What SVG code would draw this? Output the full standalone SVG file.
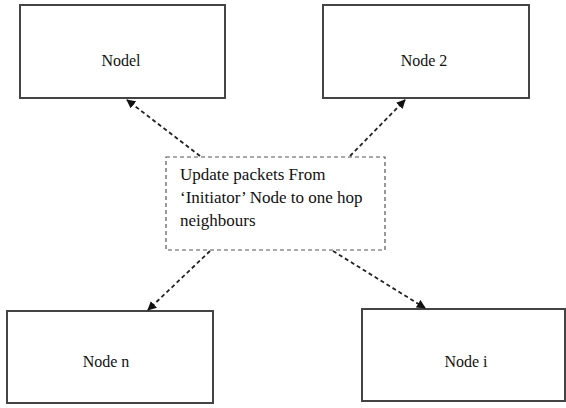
<svg xmlns="http://www.w3.org/2000/svg" width="566" height="408" viewBox="0 0 566 408">
<defs>
<style>
.node rect{fill:#fff;stroke:#444;stroke-width:2}
.lbl{font-family:"Liberation Serif",serif;font-size:16px;fill:#111}
.hub rect{fill:#fff;stroke:#555;stroke-width:1.2;stroke-dasharray:4 3}
.hub text{font-size:17px}
.conn line{stroke:#222;stroke-width:1.8;stroke-dasharray:4 3;marker-end:url(#ah)}
</style>
<marker id="ah" viewBox="0 0 10 10" refX="9" refY="5" markerWidth="5" markerHeight="5" orient="auto" markerUnits="strokeWidth">
<path d="M0,0 L10,5 L0,10 z" fill="#111"/>
</marker>
</defs>
<rect width="566" height="408" fill="#fff"/>
<g id="node1" class="node"><rect x="20" y="5" width="205" height="93"/><text class="lbl" x="121" y="66" text-anchor="middle">Nodel</text></g>
<g id="node2" class="node"><rect x="323" y="5" width="206" height="93"/><text class="lbl" x="424" y="66" text-anchor="middle">Node 2</text></g>
<g id="noden" class="node"><rect x="7" y="311" width="206" height="92"/><text class="lbl" x="106" y="367" text-anchor="middle">Node n</text></g>
<g id="nodei" class="node"><rect x="362" y="309" width="203" height="92"/><text class="lbl" x="466" y="367" text-anchor="middle">Node i</text></g>
<g id="hub" class="hub"><rect x="166" y="157" width="219" height="93"/>
<text class="lbl" x="180" y="180">Update packets From</text>
<text class="lbl" x="180" y="203">‘Initiator’ Node to one hop</text>
<text class="lbl" x="180" y="226">neighbours</text></g>
<g id="connectors" class="conn">
<line x1="200" y1="156" x2="127" y2="100"/>
<line x1="350" y1="156" x2="405" y2="100"/>
<line x1="210" y1="251" x2="148" y2="310"/>
<line x1="333" y1="251" x2="425" y2="308"/>
</g>
</svg>
